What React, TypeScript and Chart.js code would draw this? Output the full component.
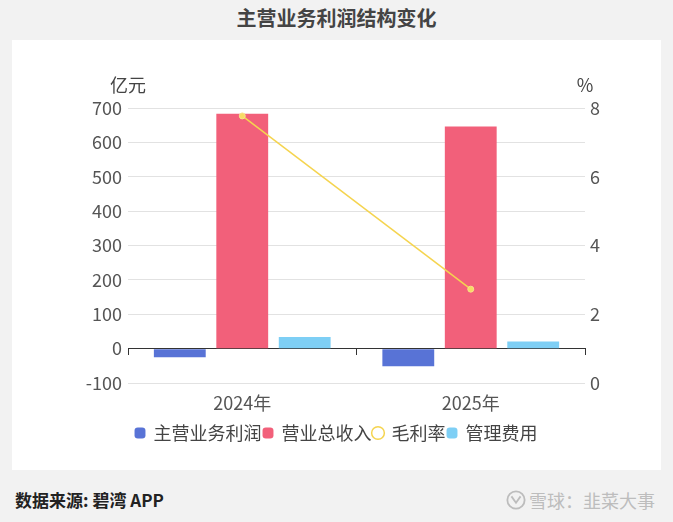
import React, { useEffect, useRef } from 'react';
import { Chart, registerables } from 'chart.js';
Chart.register(...registerables);

const categories = ['2024年', '2025年'];
const seriesNames = ['主营业务利润', '营业总收入', '毛利率', '管理费用'];
const mainProfit = [-25, -51];
const totalRevenue = [683, 646];
const grossMargin = [7.77, 2.73];
const mgmtExpense = [34, 21];
const leftAxis = [-100, 700, 100];
const rightAxis = [0, 8, 2];
const axisUnits = ['亿元', '%'];
const titleText = '主营业务利润结构变化';
const sourceText = '数据来源: 碧湾 APP';
const brandText = '雪球：韭菜大事';

const FONT = "'Noto Sans CJK SC', 'Noto Sans', sans-serif";
const BLUE = '#5873d6';
const RED = '#f2607a';
const YELLOW = '#f5d44f';
const CYAN = '#7ecff5';

export default function App() {
  const ref = useRef<HTMLCanvasElement>(null);
  useEffect(() => {
    document.body.style.margin = '0';
    const unitPlugin = {
      id: 'units',
      afterDraw(chart: any) {
        const { ctx, chartArea } = chart;
        ctx.save();
        ctx.font = `18px ${FONT}`;
        ctx.fillStyle = '#444';
        ctx.textAlign = 'center';
        ctx.textBaseline = 'middle';
        ctx.fillText(axisUnits[0], chartArea.left, chartArea.top - 23);
        ctx.fillText(axisUnits[1], chartArea.right, chartArea.top - 23);
        ctx.restore();
      },
    };
    const tickFont = { size: 18, family: FONT };
    const chart = new Chart(ref.current as HTMLCanvasElement, {
      type: 'bar',
      data: {
        labels: categories,
        datasets: [
          { type: 'bar', label: seriesNames[0], data: mainProfit, backgroundColor: BLUE, xAxisID: 'x', yAxisID: 'y', order: 1 },
          { type: 'bar', label: seriesNames[1], data: totalRevenue, backgroundColor: RED, xAxisID: 'x', yAxisID: 'y', order: 1 },
          {
            type: 'line', label: seriesNames[2], data: grossMargin, borderColor: YELLOW, backgroundColor: '#f8da64',
            borderWidth: 1.5, pointRadius: 3, pointBorderWidth: 1, pointBorderColor: '#f8e08a', xAxisID: 'x', yAxisID: 'y1', order: 0,
          },
          { type: 'bar', label: seriesNames[3], data: mgmtExpense, backgroundColor: CYAN, xAxisID: 'x', yAxisID: 'y', order: 1 },
        ] as any,
      },
      options: {
        responsive: false,
        animation: false,
        devicePixelRatio: 1,
        categoryPercentage: 0.82,
        barPercentage: 0.83,
        layout: { padding: { top: 68, left: 0, right: 0, bottom: 18 } },
        plugins: {
          tooltip: { enabled: false },
          legend: {
            position: 'bottom',
            labels: {
              usePointStyle: true,
              boxHeight: 9,
              boxWidth: 9,
              padding: 2,
              color: '#444',
              font: { size: 18, family: FONT },
              generateLabels(c: any) {
                const items = (Chart.defaults.plugins.legend.labels as any).generateLabels(c);
                items.sort((a: any, b: any) => a.datasetIndex - b.datasetIndex);
                return items.map((it: any) => {
                  const ds: any = c.data.datasets[it.datasetIndex];
                  if (ds.type === 'line') {
                    return { ...it, pointStyle: 'circle', fillStyle: '#fff', strokeStyle: YELLOW, lineWidth: 1.5 };
                  }
                  return { ...it, pointStyle: 'rectRounded', lineWidth: 0, strokeStyle: it.fillStyle };
                });
              },
            },
          },
        },
        scales: {
          x: {
            type: 'category',
            position: { y: 0 } as any,
            offset: true,
            grid: { display: true, offset: true, drawOnChartArea: false, drawTicks: true, tickLength: 6, color: '#333' },
            border: { display: true, color: '#333', width: 1 },
            ticks: { display: false },
          },
          x2: {
            type: 'category',
            labels: categories,
            position: 'bottom',
            offset: true,
            grid: { display: false, drawTicks: false },
            border: { display: false },
            ticks: { font: tickFont, color: '#555', padding: 9 },
            afterFit(s: any) { s.height = 39; },
          },
          y: {
            position: 'left',
            min: leftAxis[0],
            max: leftAxis[1],
            ticks: { stepSize: leftAxis[2], font: tickFont, color: '#555', padding: 6 },
            grid: {
              drawTicks: false,
              color: (ctx: any) => (ctx.tick && ctx.tick.value === 0 ? 'rgba(0,0,0,0)' : '#e2e2e2'),
            },
            border: { display: false },
            afterFit(s: any) { s.width = 116; },
          },
          y1: {
            position: 'right',
            min: rightAxis[0],
            max: rightAxis[1],
            ticks: { stepSize: rightAxis[2], font: tickFont, color: '#555', padding: 5 },
            grid: { display: false, drawTicks: false },
            border: { display: false },
            afterFit(s: any) { s.width = 76; },
          },
        } as any,
      },
      plugins: [unitPlugin],
    });
    return () => chart.destroy();
  }, []);

  return (
    <div style={{ position: 'relative', width: 673, height: 522, background: '#f2f2f2', fontFamily: FONT, overflow: 'hidden' }}>
      <div style={{ position: 'absolute', left: 0, top: 4, width: 673, textAlign: 'center', fontSize: 20, fontWeight: 700, color: '#444', lineHeight: '28px' }}>
        {titleText}
      </div>
      <div style={{ position: 'absolute', left: 12, top: 40, width: 649, height: 430, background: '#fff' }}>
        <canvas ref={ref} width={649} height={430} style={{ display: 'block', width: 649, height: 430 }} />
      </div>
      <div style={{ position: 'absolute', left: 15, top: 487, fontSize: 17, fontWeight: 700, color: '#222', lineHeight: '26px' }}>
        {sourceText}
      </div>
      <div style={{ position: 'absolute', right: 18, top: 486, display: 'flex', alignItems: 'center', color: '#bdbdbd', fontSize: 18, lineHeight: '28px' }}>
        <svg width="20" height="20" viewBox="0 0 22 22" style={{ marginRight: 3 }}>
          <circle cx="11" cy="11" r="9.5" fill="none" stroke="#bdbdbd" strokeWidth="2" />
          <path d="M6 7 L11 14 L16 7" fill="none" stroke="#bdbdbd" strokeWidth="2" />
        </svg>
        {brandText}
      </div>
    </div>
  );
}
